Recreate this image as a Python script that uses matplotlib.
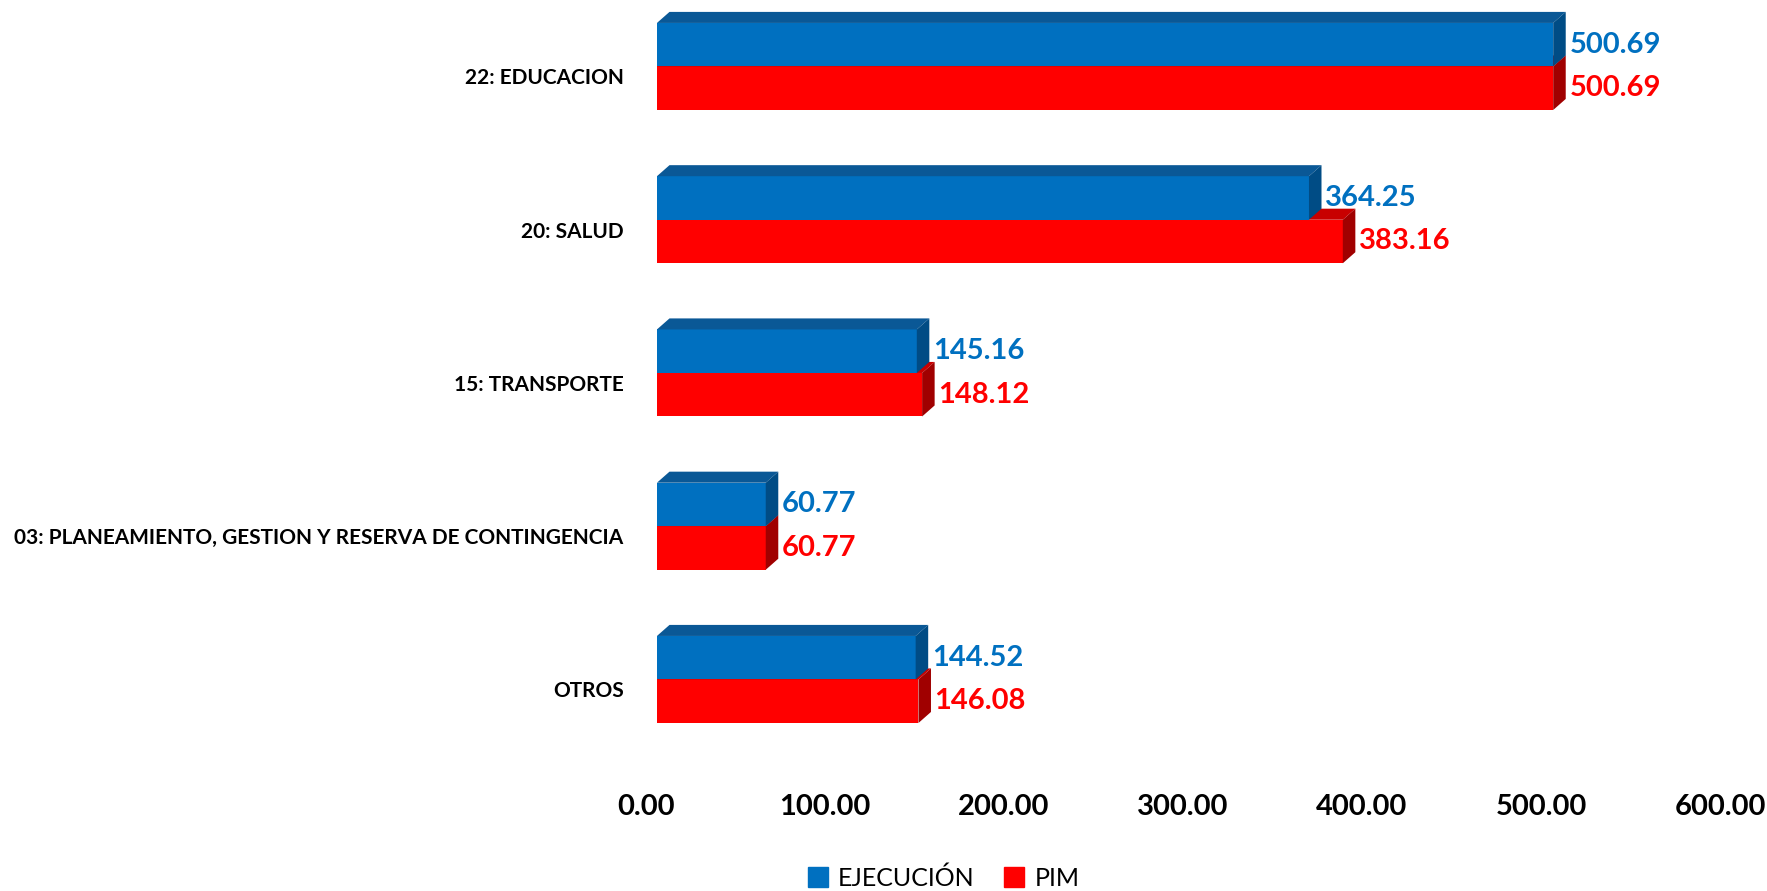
import matplotlib
matplotlib.use("Agg")
import matplotlib.pyplot as plt
from matplotlib.patches import Polygon, Patch
from matplotlib.transforms import ScaledTranslation


# Data (millones S/.)
categories = [
    "OTROS",
    "03: PLANEAMIENTO, GESTION Y RESERVA DE CONTINGENCIA",
    "15: TRANSPORTE",
    "20: SALUD",
    "22: EDUCACION",
]
ejecucion = [144.52, 60.77, 145.16, 364.25, 500.69]
pim = [146.08, 60.77, 148.12, 383.16, 500.69]
x_ticks = [0, 100, 200, 300, 400, 500, 600]


# Style
BLUE, BLUE_TOP, BLUE_SIDE = "#0070C0", "#0A5896", "#004C85"
RED, RED_TOP, RED_SIDE = "#FF0000", "#C80000", "#A00000"
BAR_H = 0.284   # front face height (y units)
DX = 7.0        # 3D depth, x units
DY = 0.072      # 3D depth, y units

plt.rcParams["font.family"] = ["Lato", "DejaVu Sans"]

fig = plt.figure(figsize=(17.67, 8.91), dpi=100)
ax = fig.add_axes([0.3718, 0.1084, 0.9796 - 0.3718, 0.8858])


def bar3d(y0, width, face, top, side):
    y1 = y0 + BAR_H
    ax.barh(y0, width, height=BAR_H, align="edge", color=face, linewidth=0)
    ax.add_patch(Polygon([(0, y1), (DX, y1 + DY), (width + DX, y1 + DY), (width, y1)],
                         closed=True, fc=top, ec="none"))
    ax.add_patch(Polygon([(width, y0), (width + DX, y0 + DY), (width + DX, y1 + DY), (width, y1)],
                         closed=True, fc=side, ec="none"))


for i, (e, p) in enumerate(zip(ejecucion, pim)):
    # red (PIM) below the split line, blue (EJECUCION) above
    bar3d(i - BAR_H, p, RED, RED_TOP, RED_SIDE)
    bar3d(i, e, BLUE, BLUE_TOP, BLUE_SIDE)
    ax.text(e + DX + 2, i + BAR_H / 2, f"{e:.2f}", color=BLUE, fontsize=21,
            fontweight="bold", va="center", ha="left")
    ax.text(p + DX + 2, i - BAR_H / 2, f"{p:.2f}", color=RED, fontsize=21,
            fontweight="bold", va="center", ha="left")

ax.set_xlim(0, 600)
ax.set_ylim(-0.75, 4.4)

ax.set_xticks(x_ticks)
ax.set_xticklabels([f"{t:.2f}" for t in x_ticks], fontsize=21, fontweight="bold")
ax.set_yticks(range(len(categories)))
ax.set_yticklabels(categories, fontsize=15, fontweight="bold")
ax.tick_params(axis="x", length=0, pad=0)
ax.tick_params(axis="y", length=0, pad=24)

for lab in ax.get_xticklabels():
    lab.set_transform(lab.get_transform() + ScaledTranslation(-0.11, 0, fig.dpi_scale_trans))
for lab in ax.get_yticklabels():
    lab.set_transform(lab.get_transform() + ScaledTranslation(0, -0.10, fig.dpi_scale_trans))

for s in ax.spines.values():
    s.set_visible(False)

handles = [Patch(color=BLUE, label="EJECUCIÓN"), Patch(color=RED, label="PIM")]
fig.legend(handles=handles, loc="center", bbox_to_anchor=(0.534, 0.0146), ncol=2,
           frameon=False, fontsize=18, handlelength=0.8, handleheight=0.8,
           handletextpad=0.4, columnspacing=1.2)

fig.savefig("out.png", dpi=100)
